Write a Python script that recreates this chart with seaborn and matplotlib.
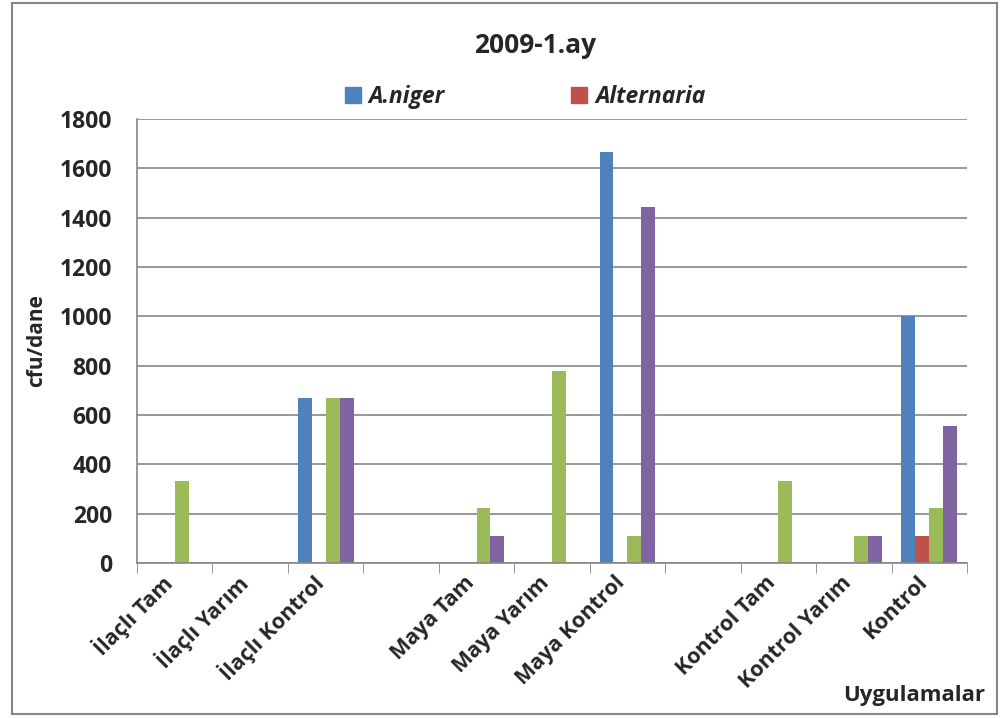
"""Bar chart of cfu/dane per treatment, 2009 month 1."""
import matplotlib
matplotlib.use("Agg")
import matplotlib.pyplot as plt
import matplotlib.transforms as mtransforms
import numpy as np
import pandas as pd
import seaborn as sns
from matplotlib.patches import Patch, Rectangle

# Categories (two empty slots separate the groups)
categories = ["İlaçlı Tam", "İlaçlı Yarım", "İlaçlı Kontrol", "_gap1",
              "Maya Tam", "Maya Yarım", "Maya Kontrol", "_gap2",
              "Kontrol Tam", "Kontrol Yarım", "Kontrol"]
tick_labels = ["İlaçlı Tam", "İlaçlı Yarım", "İlaçlı Kontrol", "",
               "Maya Tam", "Maya Yarım", "Maya Kontrol", "",
               "Kontrol Tam", "Kontrol Yarım", "Kontrol"]

# Series values
a_niger = [0, 0, 667, 0, 0, 0, 1667, 0, 0, 0, 1000]
alternaria = [0, 0, 0, 0, 0, 0, 0, 0, 0, 0, 111]
series3 = [333, 0, 667, 0, 222, 778, 111, 0, 333, 111, 222]
series4 = [0, 0, 667, 0, 111, 0, 1444, 0, 0, 111, 556]

series_names = ["A.niger", "Alternaria", "Seri 3", "Seri 4"]
colors = ["#4F81BD", "#C0504D", "#9BBB59", "#8064A2"]

# Long-form table for seaborn
df = pd.DataFrame({
    "Uygulama": categories * 4,
    "cfu": a_niger + alternaria + series3 + series4,
    "Seri": np.repeat(series_names, len(categories)),
})

sns.set_style("white")
plt.rcParams["font.family"] = ["Open Sans", "DejaVu Sans"]
plt.rcParams["font.weight"] = "bold"

fig = plt.figure(figsize=(10.08, 7.18), dpi=100)
ax = fig.add_axes([0.1359, 0.2159, 0.8234, 0.6184])

sns.barplot(
    data=df, x="Uygulama", y="cfu", hue="Seri",
    order=categories, hue_order=series_names,
    palette=colors, width=0.74, gap=0, saturation=1,
    linewidth=0, legend=False, ax=ax,
)

# Axes limits and ticks
ax.set_ylim(0, 1800)
ax.set_xlim(-0.5, len(categories) - 0.5)
ax.set_yticks(np.arange(0, 1801, 200))
ax.tick_params(axis="y", labelsize=16.5, length=6, color="#868686", pad=12)

ax.set_xticks(np.arange(len(categories)))
ax.set_xticklabels(tick_labels, rotation=45, ha="right", va="center",
                   rotation_mode="anchor", fontsize=15.5)
ax.tick_params(axis="x", which="major", length=0, pad=12)
shift = mtransforms.ScaledTranslation(-4 / 72, 0, fig.dpi_scale_trans)
for lab in ax.get_xticklabels():
    lab.set_transform(lab.get_transform() + shift)
ax.set_xticks(np.arange(-0.5, len(categories)), minor=True)
ax.tick_params(axis="x", which="minor", length=7, color="#868686",
               direction="out", bottom=True)

# Grid and spines
ax.yaxis.grid(True, color="#868686", linewidth=1.2)
ax.set_axisbelow(True)
for side in ["top", "right"]:
    ax.spines[side].set_visible(False)
for side in ["left", "bottom"]:
    ax.spines[side].set_color("#868686")
    ax.spines[side].set_linewidth(1.2)

# Labels and title
ax.set_xlabel("")
ax.set_ylabel("cfu/dane", fontsize=15, fontweight="bold", labelpad=9)
fig.text(0.977, 0.032, "Uygulamalar", ha="right", va="center",
         fontsize=16, fontweight="bold")
fig.text(0.531, 0.937, "2009-1.ay", ha="center", va="center",
         fontsize=19, fontweight="bold")

# Legend shows only the first two series
handles = [Patch(color=colors[0]), Patch(color=colors[1])]
fig.legend(handles, series_names[:2], loc="center", ncol=2,
           bbox_to_anchor=(0.521, 0.865), frameon=False,
           prop={"size": 16.5, "weight": "bold", "style": "italic"},
           handlelength=0.7, handleheight=0.7, columnspacing=5.5,
           handletextpad=0.35)

# Outer chart frame
fig.patches.append(Rectangle((0.0119, 0.0056), 0.977, 0.990,
                             transform=fig.transFigure, fill=False,
                             edgecolor="#868686", linewidth=1.5))

fig.savefig("out.png", dpi=100)
